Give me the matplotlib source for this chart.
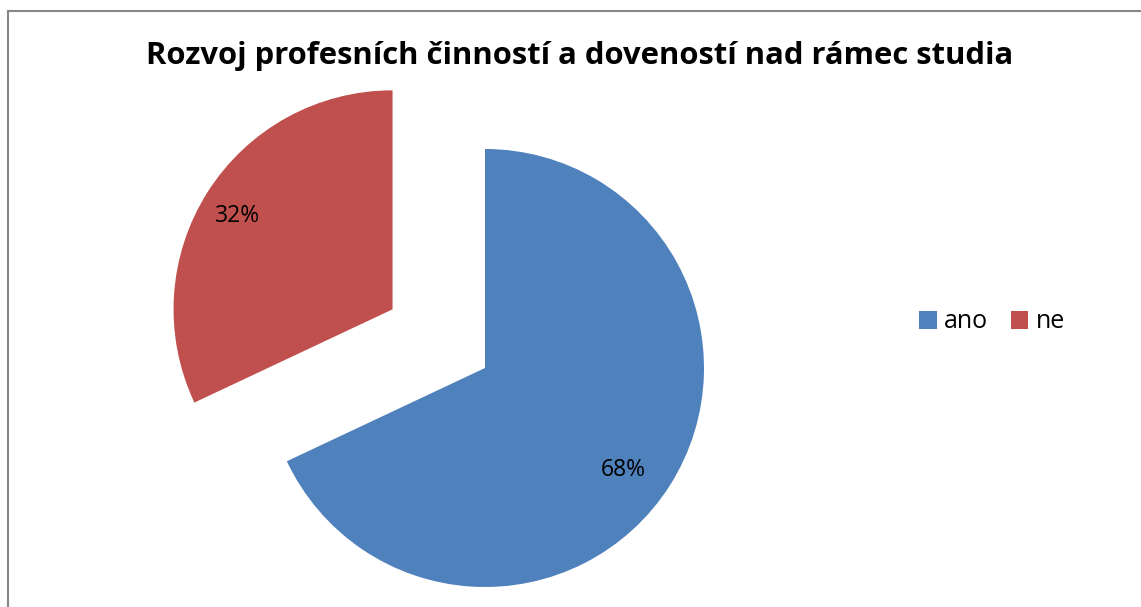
import matplotlib
matplotlib.use("Agg")
import matplotlib.pyplot as plt
from matplotlib.patches import Rectangle

plt.rcParams['font.family'] = ['Open Sans', 'DejaVu Sans']

title = "Rozvoj profesních činností a doveností nad rámec studia"
categories = ["ano", "ne"]
shares = [68, 32]
colors = ["#4F81BD", "#C0504D"]
explode_frac = [0.0, 0.5]

W, H = 1141, 607
R = 219
fig = plt.figure(figsize=(W / 100, H / 100), dpi=100)
ax = fig.add_axes([0, 0, 1, 1])
ax.set_xlim(0, W)
ax.set_ylim(0, H)
ax.set_aspect('equal')
ax.axis('off')

# pie() offsets exploded wedges in data units, so scale by the radius
wedges, texts, autotexts = ax.pie(
    shares, colors=colors, explode=[e * R for e in explode_frac],
    startangle=90, counterclock=False,
    radius=R, center=(485, H - 368), autopct='%d%%', pctdistance=0.8,
    textprops={'fontsize': 16.5, 'color': 'black'},
    wedgeprops={'linewidth': 0})
ax.set_xlim(0, W)
ax.set_ylim(0, H)

# nudge the percentage labels to their usual spots inside the wedges
autotexts[0].set_position((623, H - 470))
autotexts[1].set_position((237, H - 216))

fig.text(580 / W, 1 - 56 / H, title, ha='center', va='center',
         fontsize=22.3, fontweight='bold')

fig.legend(wedges, categories, loc='center left',
           bbox_to_anchor=(919 / W, 1 - 322 / H), ncol=2, frameon=False,
           fontsize=18, handlelength=0.7, handleheight=0.7,
           handletextpad=0.3, columnspacing=0.9, borderpad=0, borderaxespad=0)

fig.patches.append(Rectangle((8 / W, -0.5), 2, 0.5 + 1 - 11 / H,
                             transform=fig.transFigure, fill=False,
                             edgecolor='#878787', linewidth=1.5))

fig.savefig("out.png", dpi=100)
